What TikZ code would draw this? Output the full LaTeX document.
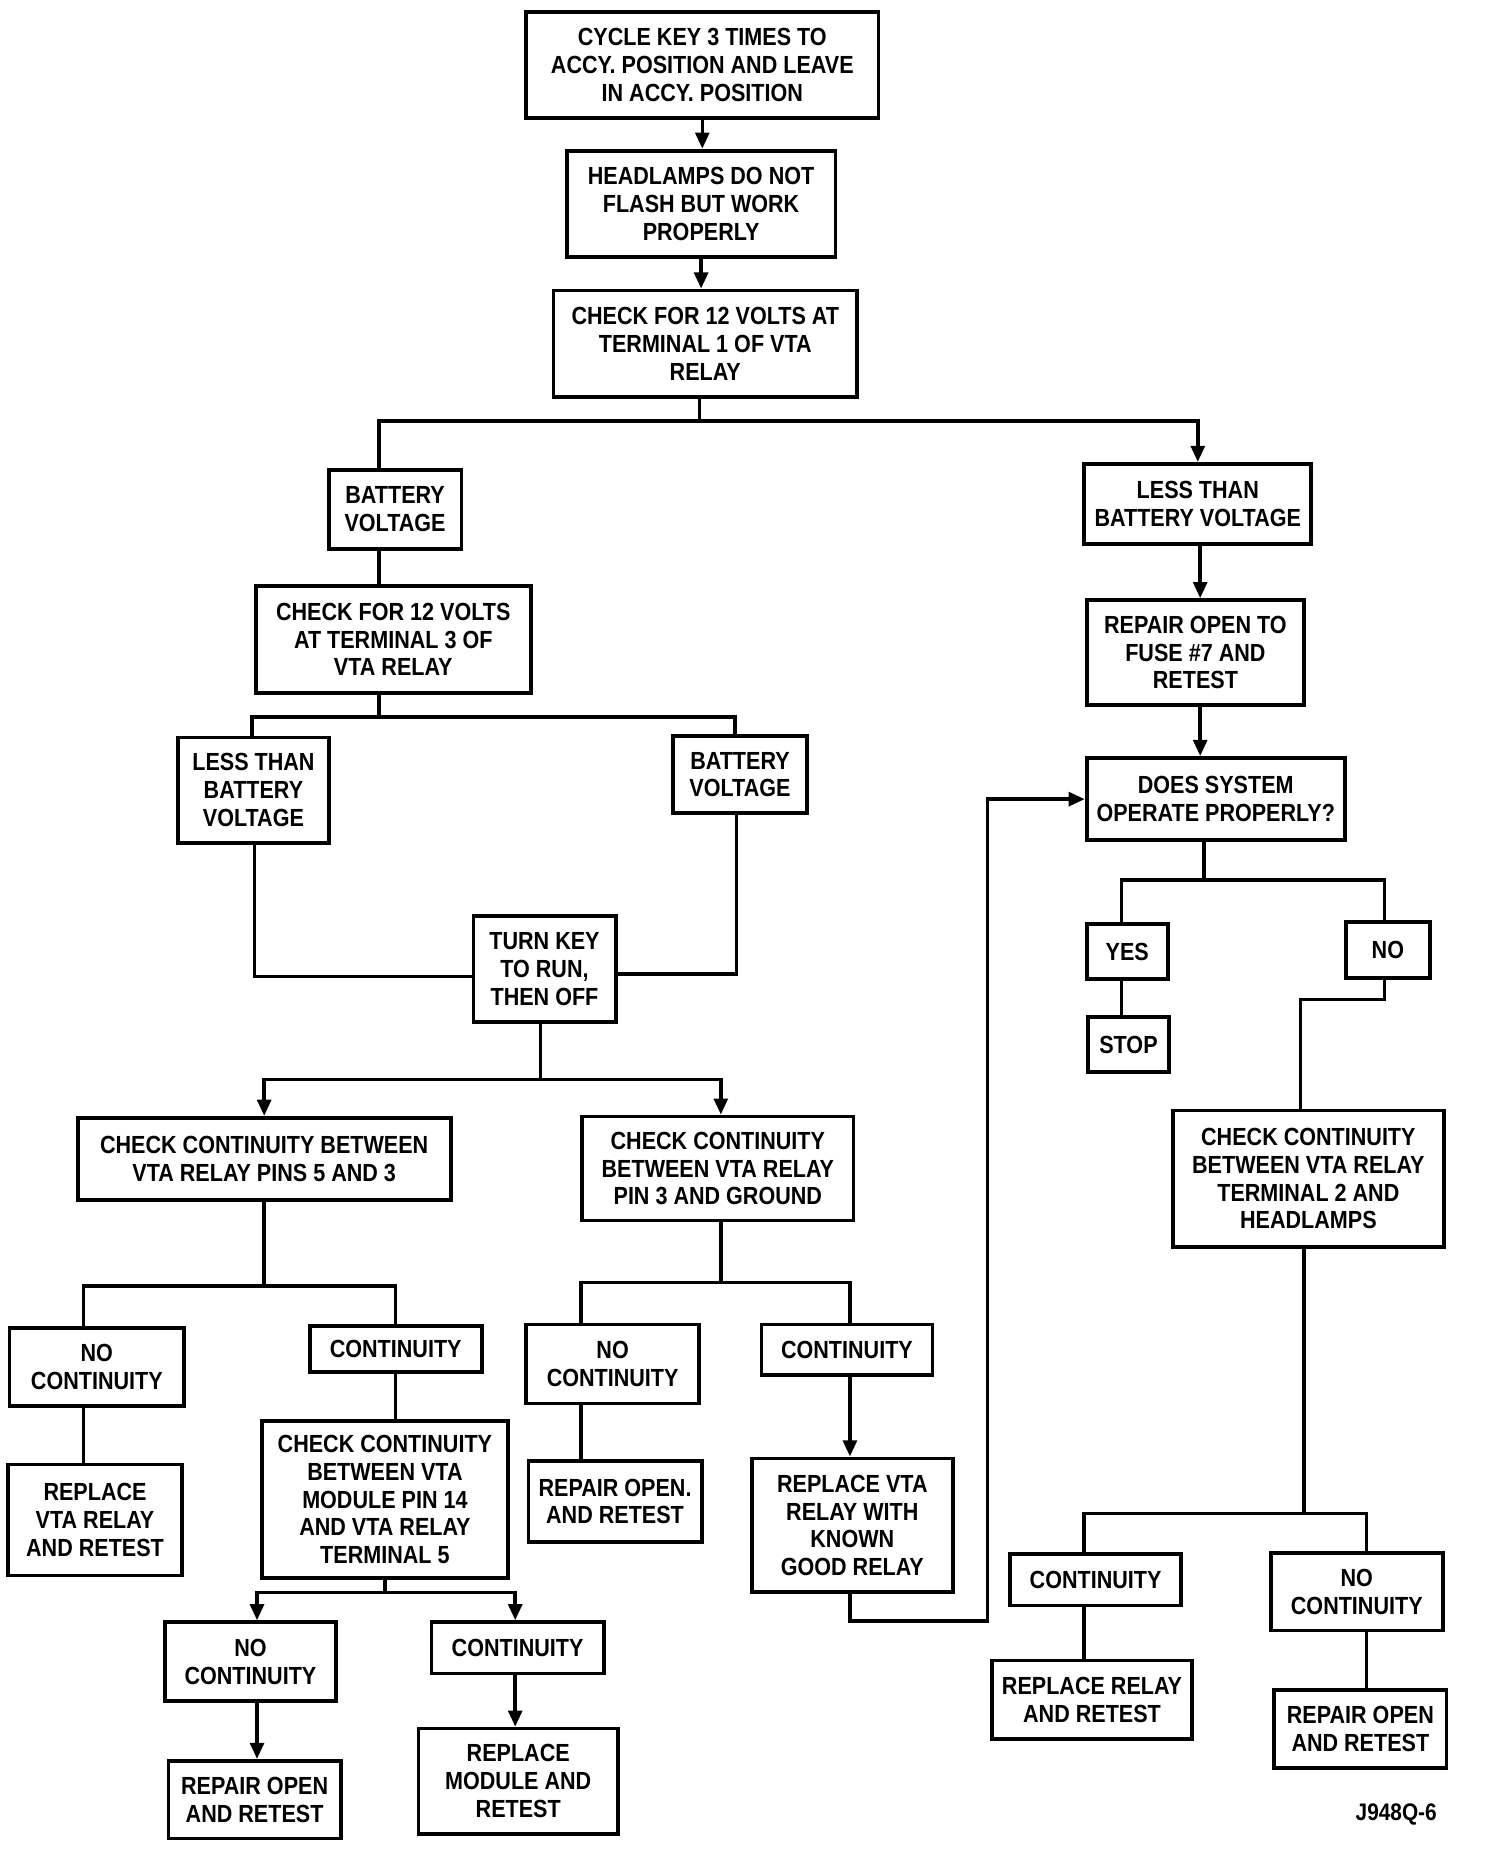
\documentclass[tikz,border=0pt]{standalone}
\usepackage{fontspec}
\newfontfamily\ff{Liberation Sans}[FakeStretch=0.87]
\usetikzlibrary{arrows.meta}
\tikzset{
  box/.style={draw, line width=1.8pt, inner sep=0pt, align=center,
    font=\ff\bfseries\fontsize{11.8pt}{13.2pt}\selectfont},
  ln/.style={line width=1.7pt},
  arr/.style={line width=1.7pt, -{Triangle[length=0.27cm, width=0.23cm]}},
  lbl/.style={font=\ff\bfseries\fontsize{11.4pt}{13pt}\selectfont, inner sep=0pt}
}
\newcommand\bx[6]{\node[box, minimum width={(#4-#2)*0.2mm}, minimum height={(#5-#3)*0.2mm}] (#1) at ({(#2+#4)/2},{(#3+#5)/2}) {#6};}
\begin{document}
\begin{tikzpicture}[x=0.02cm, y=-0.02cm]
\fill[white] (0,0) rectangle (1258,1566);
\useasboundingbox (0,0) rectangle (1258,1566);
% boxes
\bx{n1}{440}{10}{735}{99}{CYCLE KEY 3 TIMES TO\\ACCY. POSITION AND LEAVE\\IN ACCY. POSITION}
\bx{n2}{474}{126}{699}{215}{HEADLAMPS DO NOT\\FLASH BUT WORK\\PROPERLY}
\bx{n3}{463}{243}{717}{332}{CHECK FOR 12 VOLTS AT\\TERMINAL 1 OF VTA\\RELAY}
\bx{bvA}{275}{393}{386}{459}{BATTERY\\VOLTAGE}
\bx{ltA}{907}{388}{1097}{455}{LESS THAN\\BATTERY VOLTAGE}
\bx{c3}{214}{490}{444}{580}{CHECK FOR 12 VOLTS\\AT TERMINAL 3 OF\\VTA RELAY}
\bx{ltB}{149}{617}{275}{705}{LESS THAN\\BATTERY\\VOLTAGE}
\bx{bvB}{563}{616}{675}{680}{BATTERY\\VOLTAGE}
\bx{tk}{396}{766}{515}{855}{TURN KEY\\TO RUN,\\THEN OFF}
\bx{cc1}{65}{935}{377}{1004}{CHECK CONTINUITY BETWEEN\\VTA RELAY PINS 5 AND 3}
\bx{cc2}{487}{934}{714}{1021}{CHECK CONTINUITY\\BETWEEN VTA RELAY\\PIN 3 AND GROUND}
\bx{nc1}{8}{1111}{154}{1176}{NO\\CONTINUITY}
\bx{co1}{259}{1109}{403}{1148}{CONTINUITY}
\bx{rv1}{7}{1225}{152}{1318}{REPLACE\\VTA RELAY\\AND RETEST}
\bx{cm}{219}{1189}{425}{1320}{CHECK CONTINUITY\\BETWEEN VTA\\MODULE PIN 14\\AND VTA RELAY\\TERMINAL 5}
\bx{nc2}{138}{1357}{281}{1423}{NO\\CONTINUITY}
\bx{co2}{361}{1357}{505}{1400}{CONTINUITY}
\bx{ro1}{141}{1473}{285}{1538}{REPAIR OPEN\\AND RETEST}
\bx{rm}{350}{1446}{517}{1534}{REPLACE\\MODULE AND\\RETEST}
\bx{nc3}{440}{1108}{585}{1174}{NO\\CONTINUITY}
\bx{co3}{637}{1108}{780}{1150}{CONTINUITY}
\bx{ro2}{442}{1222}{587}{1290}{REPAIR OPEN.\\AND RETEST}
\bx{rv2}{629}{1220}{797}{1332}{REPLACE VTA\\RELAY WITH\\KNOWN\\GOOD RELAY}
\bx{ro3}{909}{502}{1091}{590}{REPAIR OPEN TO\\FUSE \#7 AND\\RETEST}
\bx{ds}{909}{634}{1125}{703}{DOES SYSTEM\\OPERATE PROPERLY?}
\bx{yes}{909}{773}{977}{819}{YES}
\bx{no}{1126}{771}{1196}{818}{NO}
\bx{stop}{910}{851}{978}{897}{STOP}
\bx{cc3}{981}{929}{1208}{1043}{CHECK CONTINUITY\\BETWEEN VTA RELAY\\TERMINAL 2 AND\\HEADLAMPS}
\bx{co4}{845}{1300}{988}{1343}{CONTINUITY}
\bx{nc4}{1063}{1299}{1207}{1364}{NO\\CONTINUITY}
\bx{rr}{830}{1389}{997}{1455}{REPLACE RELAY\\AND RETEST}
\bx{ro4}{1066}{1414}{1210}{1479}{REPAIR OPEN\\AND RETEST}
\node[lbl] (code) at (1168,1518) {J948Q-6};
% junction coordinates
\coordinate (s1) at (585,352); \coordinate (s1L) at (317,352); \coordinate (s1R) at (1002,352);
\coordinate (s2) at (317,600); \coordinate (s2L) at (211,600); \coordinate (s2R) at (615,600);
\coordinate (t1) at (213,817); \coordinate (t2) at (616,815);
\coordinate (s3) at (452,903); \coordinate (s3L) at (221,903); \coordinate (s3R) at (603,903);
\coordinate (s4) at (221,1076); \coordinate (s4L) at (70,1076); \coordinate (s4R) at (331,1076);
\coordinate (s5) at (322,1332); \coordinate (s5L) at (215,1332); \coordinate (s5R) at (431,1332);
\coordinate (s6) at (603,1073); \coordinate (s6L) at (486,1073); \coordinate (s6R) at (711,1073);
\coordinate (r1) at (826,1356);
\coordinate (q) at (1004,0);
\coordinate (s7) at (1007,736); \coordinate (s7L) at (938,736); \coordinate (s7R) at (1158,736);
\coordinate (n7) at (1088,836);
\coordinate (s8) at (1091,1266); \coordinate (s8L) at (907,1266); \coordinate (s8R) at (1143,1266);
% connectors
\draw[arr] (n1.south) -- (n1.south |- n2.north);
\draw[arr] (n2.south) -- (n2.south |- n3.north);
\draw[ln] (n3.south -| s1) -- (s1);
\draw[arr] (bvA.north -| s1L) |- (s1R) -- (ltA.north);
\draw[ln] (bvA.south -| s1L) -- (c3.north -| s1L);
\draw[ln] (c3.south -| s2) -- (s2);
\draw[ln] (ltB.north -| s2L) |- (s2R) -- (bvB.north -| s2R);
\draw[ln] (ltB.south -| t1) |- (tk.west |- t1);
\draw[ln] (bvB.south -| t2) |- (tk.east |- t2);
\draw[ln] (tk.south -| s3) -- (s3);
\draw[arr] (s3) -- (s3L) -- (cc1.north -| s3L);
\draw[arr] (s3) -- (s3R) -- (cc2.north -| s3R);
\draw[ln] (cc1.south -| s4) -- (s4);
\draw[ln] (nc1.north -| s4L) |- (s4R) -- (co1.north -| s4R);
\draw[ln] (nc1.south -| s4L) -- (rv1.north -| s4L);
\draw[ln] (co1.south -| s4R) -- (cm.north -| s4R);
\draw[ln] (cm.south -| s5) -- (s5);
\draw[arr] (s5) -- (s5L) -- (nc2.north -| s5L);
\draw[arr] (s5) -- (s5R) -- (co2.north -| s5R);
\draw[arr] (nc2.south -| s5L) -- (ro1.north -| s5L);
\draw[arr] (co2.south -| s5R) -- (rm.north -| s5R);
\draw[ln] (cc2.south -| s6) -- (s6);
\draw[ln] (nc3.north -| s6L) |- (s6R) -- (co3.north -| s6R);
\draw[ln] (nc3.south -| s6L) -- (ro2.north -| s6L);
\draw[arr] (co3.south -| s6R) -- (rv2.north -| s6R);
\draw[arr] (rv2.south -| s6R) |- (r1) |- (ds.west);
\draw[arr] (ltA.south -| q) -- (ro3.north -| q);
\draw[arr] (ro3.south -| q) -- (ds.north -| q);
\draw[ln] (ds.south -| s7) -- (s7);
\draw[ln] (yes.north -| s7L) |- (s7R) -- (no.north -| s7R);
\draw[ln] (yes.south -| s7L) -- (stop.north -| s7L);
\draw[ln] (no.south -| s7R) |- (n7) -- (cc3.north -| n7);
\draw[ln] (cc3.south -| s8) -- (s8);
\draw[ln] (co4.north -| s8L) |- (s8R) -- (nc4.north -| s8R);
\draw[ln] (co4.south -| s8L) -- (rr.north -| s8L);
\draw[ln] (nc4.south -| s8R) -- (ro4.north -| s8R);
\end{tikzpicture}
\end{document}
